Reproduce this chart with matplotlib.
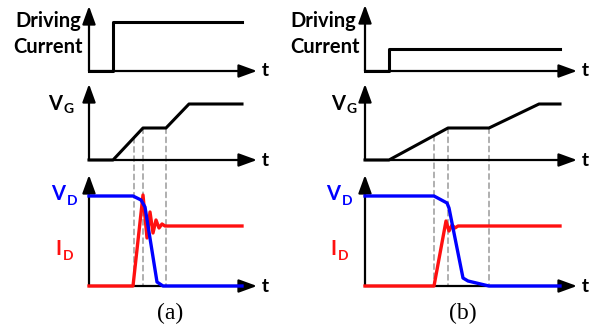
import numpy as np
import matplotlib
matplotlib.use("Agg")
import matplotlib.pyplot as plt
from matplotlib.patches import ConnectionPatch

# waveform data, time in arbitrary units, values in arbitrary units
# panel (a): fast driving current
a_drv_t = [0, 2.4, 2.4, 15.3]
a_drv_v = [0, 0, 4.9, 4.9]
a_vg_t = [0, 2.4, 5.4, 7.7, 10.0, 15.3]
a_vg_v = [0, 0, 3.2, 3.2, 5.6, 5.6]
a_vd_t = [0, 4.4, 5.2, 5.6, 6.8, 7.4, 15.3]
a_vd_v = [9.0, 9.0, 8.6, 7.9, 0.4, 0.0, 0.0]
a_id_t = [0, 4.4, 5.4, 5.8, 6.1, 6.4, 6.7, 7.0, 7.3, 7.6, 15.3]
a_id_v = [0, 0, 9.1, 4.8, 7.4, 5.3, 6.6, 5.8, 6.2, 6.0, 6.0]
a_marks = [4.5, 5.4, 7.7]

# panel (b): slow driving current
b_drv_t = [0, 2.4, 2.4, 19.5]
b_drv_v = [0, 0, 2.2, 2.2]
b_vg_t = [0, 2.4, 8.3, 12.4, 17.4, 19.5]
b_vg_v = [0, 0, 3.2, 3.2, 5.6, 5.6]
b_vd_t = [0, 6.9, 8.2, 8.4, 9.8, 10.3, 12.4, 19.5]
b_vd_v = [9.0, 9.0, 8.3, 7.8, 0.8, 0.5, 0.0, 0.0]
b_id_t = [0, 6.9, 8.1, 8.4, 8.7, 9.0, 9.3, 19.5]
b_id_v = [0, 0, 6.5, 5.5, 6.1, 5.8, 6.0, 6.0]
b_marks = [6.9, 8.3, 12.4]

W, H = 600, 330
fig = plt.figure(figsize=(6, 3.3), dpi=100)

BLUE = "#0000ff"
RED = "#ff1010"
GRID = "#9a9a9a"


def px(x, y):
    return x / W, 1 - y / H


def make_ax(x0, x1, ybase, ytop):
    ax = fig.add_axes([x0 / W, 1 - ybase / H, (x1 - x0) / W, (ybase - ytop) / H])
    ax.set_xlim(0, (x1 - x0) / 10)
    ax.set_ylim(0, (ybase - ytop) / 10)
    ax.axis("off")
    arrow = dict(arrowstyle="-|>,head_length=0.55,head_width=0.2", color="k",
                 lw=1.6, mutation_scale=20, shrinkA=0, shrinkB=0)
    ax.annotate("", xy=(1, 0), xytext=(0, 0), xycoords="axes fraction",
                arrowprops=arrow, annotation_clip=False)
    ax.annotate("", xy=(0, 1), xytext=(0, 0), xycoords="axes fraction",
                arrowprops=arrow, annotation_clip=False)
    ax.text(1.0, 0, " t", transform=ax.transAxes, ha="left", va="center",
            fontsize=14, fontweight="bold", family="Lato")
    return ax


def panel(x0, x1, tops, drv, vg, vd, idd, marks):
    ax1 = make_ax(x0, x1, 71, tops[0])
    ax2 = make_ax(x0, x1, 160, tops[1])
    ax3 = make_ax(x0, x1, 286, tops[2])
    ax1.plot(drv[0], drv[1], color="k", lw=2.2, clip_on=False)
    ax2.plot(vg[0], vg[1], color="k", lw=2.2, clip_on=False)
    ax3.plot(idd[0], idd[1], color=RED, lw=2.4, clip_on=False, zorder=3)
    ax3.plot(vd[0], vd[1], color=BLUE, lw=2.4, clip_on=False, zorder=4)
    # dashed guide lines from V_G down to the I_D/V_D baseline
    for t in marks:
        v = np.interp(t, vg[0], vg[1])
        con = ConnectionPatch(xyA=(t, v), coordsA=ax2.transData,
                              xyB=(t, 0), coordsB=ax3.transData,
                              color=GRID, lw=1.1, linestyle=(0, (3.5, 2.5)), zorder=-1)
        fig.add_artist(con)


panel(89, 257, (6, 84, 175), (a_drv_t, a_drv_v), (a_vg_t, a_vg_v),
      (a_vd_t, a_vd_v), (a_id_t, a_id_v), a_marks)
panel(365, 577, (5, 84, 175), (b_drv_t, b_drv_v), (b_vg_t, b_vg_v),
      (b_vd_t, b_vd_v), (b_id_t, b_id_v), b_marks)

lab = dict(fontweight="bold", family="Lato", va="baseline")


def sub_label(x, y, main, sub, dy, color):
    t = fig.text(*px(x, y), main, fontsize=14.5, color=color, ha="left", **lab)
    plt.annotate(sub, xy=(1, 0), xycoords=t, xytext=(1, -dy),
                 textcoords="offset points", fontsize=10, color=color,
                 fontweight="bold", family="Lato", ha="left", va="bottom",
                 annotation_clip=False)


for xr, xr2 in [(81, 83), (356, 360)]:
    fig.text(*px(xr, 27), "Driving", fontsize=14.5, ha="right", **lab)
    fig.text(*px(xr2, 53), "Current", fontsize=14.5, ha="right", **lab)

sub_label(48, 110, "V", "G", 0.5, "k")
sub_label(51, 200, "V", "D", 2, BLUE)
sub_label(55, 255, "I", "D", 2, RED)
sub_label(331, 110, "V", "G", 0.5, "k")
sub_label(326, 200, "V", "D", 2, BLUE)
sub_label(330, 255, "I", "D", 2, RED)

fig.text(*px(170, 319), "(a)", fontsize=17, family="Liberation Serif",
         ha="center", va="baseline")
fig.text(*px(463, 319), "(b)", fontsize=17, family="Liberation Serif",
         ha="center", va="baseline")

fig.savefig("out.png", dpi=100)
